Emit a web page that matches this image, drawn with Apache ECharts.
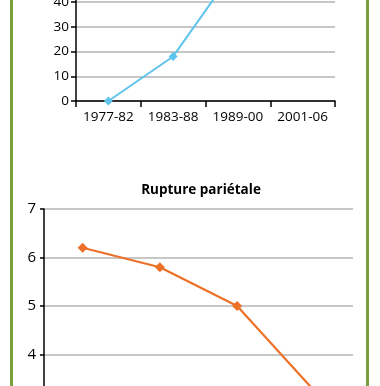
<!DOCTYPE html>
<html>
<head>
<meta charset="utf-8">
<script src="https://cdn.jsdelivr.net/npm/echarts@6/dist/echarts.min.js"></script>
<style>
html,body{margin:0;padding:0;background:#fff;}
#c{width:380px;height:386px;}
</style>
</head>
<body>
<div id="c"></div>
<script>
// Top chart (cropped)
var topCategories = ['1977-82', '1983-88', '1989-00', '2001-06'];
var topValues = [0, 18, 55, 72];
var topTicks = [0, 10, 20, 30, 40, 50, 60, 70, 80];

// Bottom chart
var bottomTitle = 'Rupture pariétale';
var bottomCategories = ['1977-82', '1983-88', '1989-00', '2001-06'];
var bottomValues = [6.2, 5.8, 5.0, 3.25];
var bottomTicks = [3, 4, 5, 6, 7];

var chart = echarts.init(document.getElementById('c'), null, {renderer: 'canvas'});
var green = '#78a13e';
var font = 'Open Sans';
chart.setOption({
  animation: false,
  backgroundColor: '#ffffff',
  title: {
    text: bottomTitle,
    left: 196, top: 178, textAlign: 'center',
    textStyle: {fontFamily: font, fontSize: 13.5, fontWeight: 'bold', color: '#000'}
  },
  graphic: [
    {type: 'line', shape: {x1: 11.5, y1: 0, x2: 11.5, y2: 386}, style: {stroke: green, lineWidth: 3}},
    {type: 'line', shape: {x1: 367.5, y1: 0, x2: 367.5, y2: 386}, style: {stroke: green, lineWidth: 3}}
  ],
  grid: [
    {left: 76, width: 259, top: 101 - 8 * 24.75, height: 8 * 24.75, containLabel: false, outerBoundsMode: 'none'},
    {left: 44, width: 309, top: 209, height: 4 * 48.5, containLabel: false, outerBoundsMode: 'none'}
  ],
  xAxis: [
    {
      type: 'category', gridIndex: 0, data: topCategories, boundaryGap: true,
      axisLine: {lineStyle: {color: '#000', width: 1.5}},
      axisTick: {show: true, length: 6, interval: 0, lineStyle: {color: '#000', width: 1.5}},
      axisLabel: {interval: 0, hideOverlap: false, fontFamily: font, fontSize: 13.5, color: '#000', margin: 9}
    },
    {
      type: 'category', gridIndex: 1, data: bottomCategories, boundaryGap: true,
      axisLine: {lineStyle: {color: '#000', width: 1.5}},
      axisTick: {show: true, length: 6, interval: 0, lineStyle: {color: '#000', width: 1.5}},
      axisLabel: {interval: 0, fontFamily: font, fontSize: 13, color: '#000'}
    }
  ],
  yAxis: [
    {
      type: 'value', gridIndex: 0, min: topTicks[0], max: topTicks[topTicks.length - 1], interval: 10,
      axisLine: {show: true, lineStyle: {color: '#000', width: 1.5}},
      axisTick: {show: true, length: 5, lineStyle: {color: '#000', width: 1.5}},
      axisLabel: {fontFamily: font, fontSize: 13.5, color: '#000', margin: 7},
      splitLine: {lineStyle: {color: '#b5b5b5', width: 1.5}}
    },
    {
      type: 'value', gridIndex: 1, min: bottomTicks[0], max: bottomTicks[bottomTicks.length - 1], interval: 1,
      axisLine: {show: true, lineStyle: {color: '#000', width: 1.5}},
      axisTick: {show: true, length: 4, lineStyle: {color: '#000', width: 1.5}},
      axisLabel: {fontFamily: font, fontSize: 15, color: '#000', margin: 8},
      splitLine: {lineStyle: {color: '#b5b5b5', width: 1.5}}
    }
  ],
  series: [
    {
      type: 'line', xAxisIndex: 0, yAxisIndex: 0, data: topValues,
      symbol: 'diamond', symbolSize: 9,
      lineStyle: {color: '#5ec4ec', width: 2},
      itemStyle: {color: '#5ec4ec'}
    },
    {
      type: 'line', xAxisIndex: 1, yAxisIndex: 1, data: bottomValues,
      symbol: 'diamond', symbolSize: 10,
      lineStyle: {color: '#ec7028', width: 2.2},
      itemStyle: {color: '#ec7028'}
    }
  ]
});
</script>
</body>
</html>
